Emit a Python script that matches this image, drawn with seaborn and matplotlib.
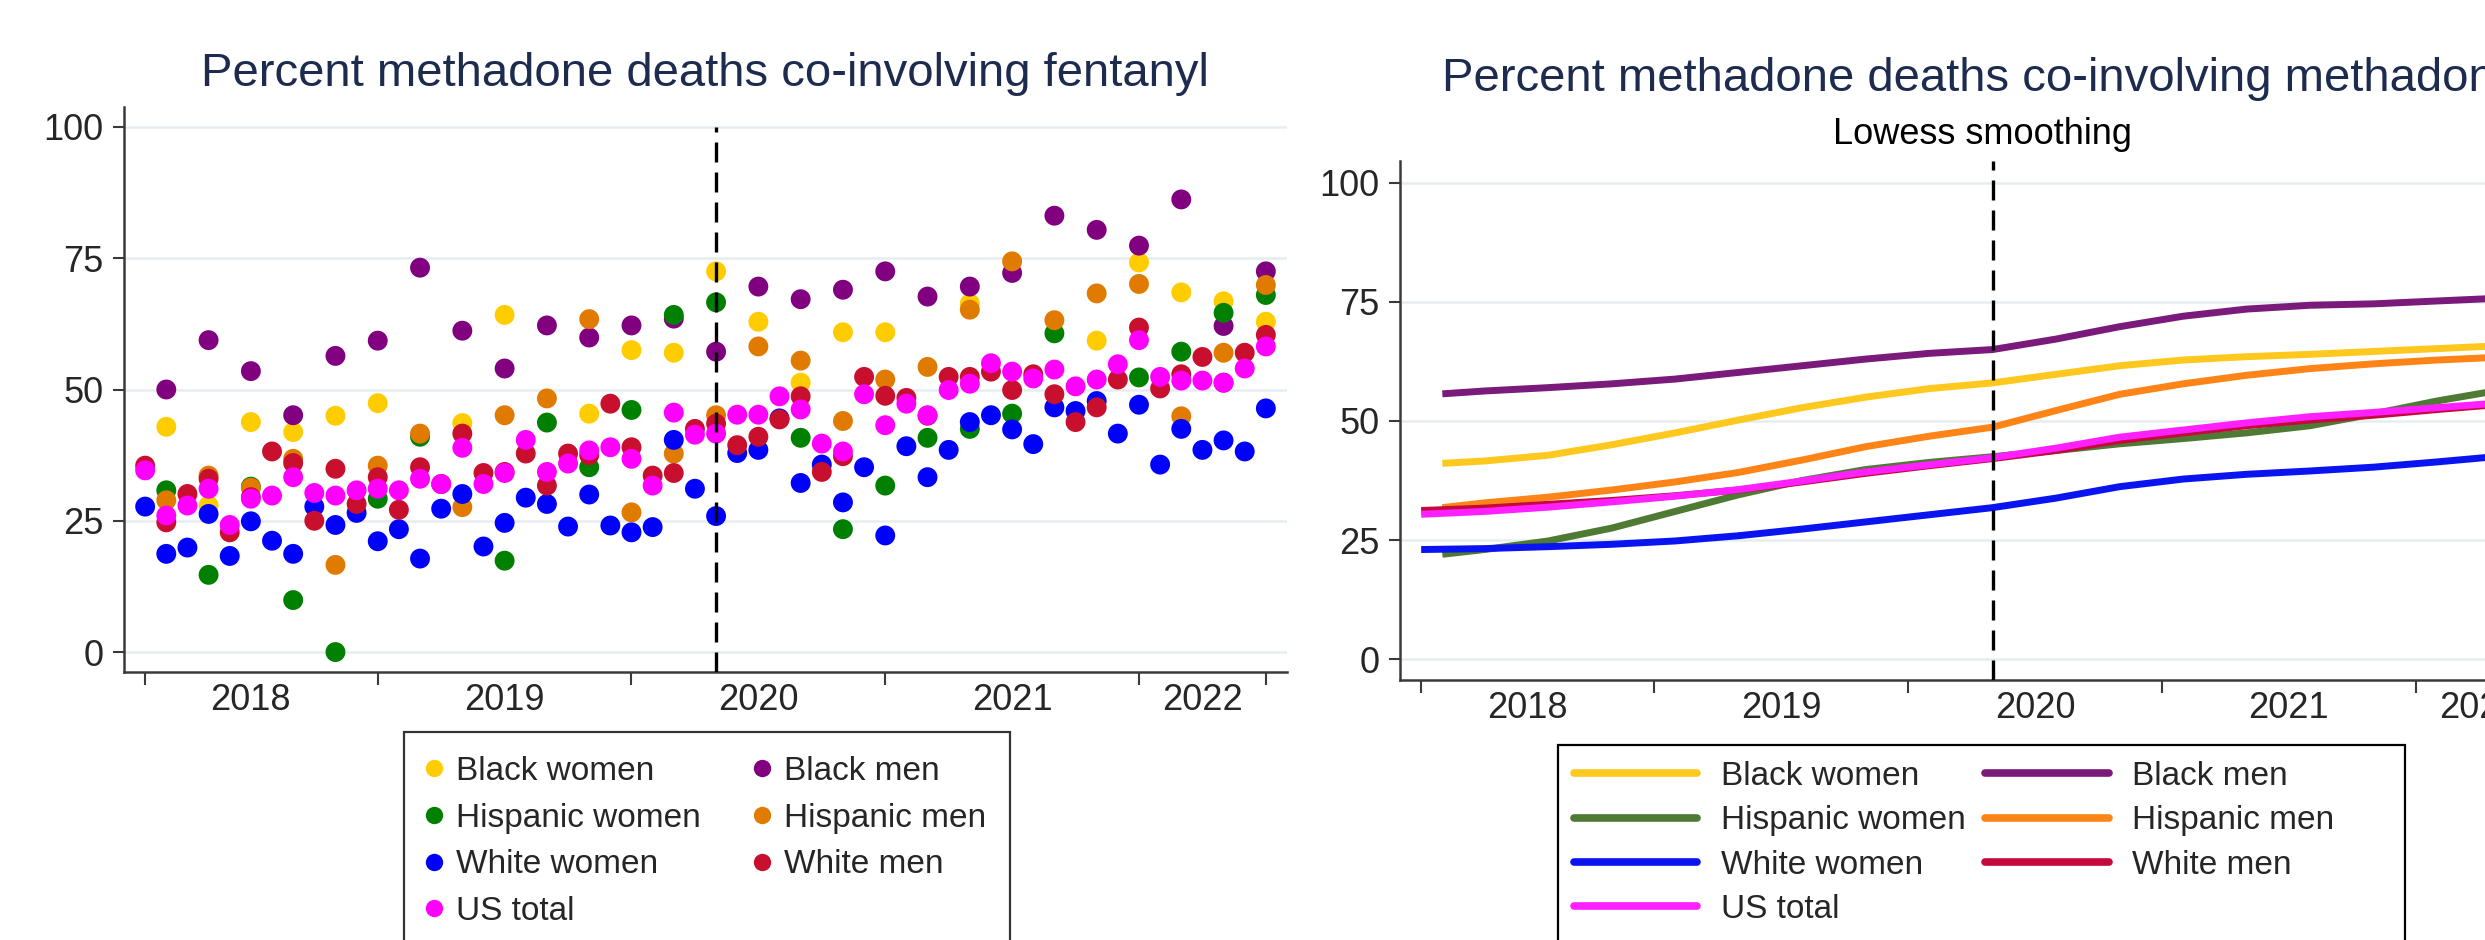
import numpy as np
import pandas as pd
import matplotlib
matplotlib.use("Agg")
import matplotlib.pyplot as plt
from matplotlib.lines import Line2D
from matplotlib.patches import Rectangle
import seaborn as sns

sns.set_theme(style="white")
plt.rcParams['font.family'] = ['Liberation Sans', 'DejaVu Sans']

nan = np.nan

# Month index: 0 = Jan 2018 ... 53 = Jun 2022
months = list(range(54))

# Monthly percent of methadone deaths co-involving fentanyl
black_women = [nan, 42.9, nan, 27.9, nan, 43.8, nan, 41.9, nan, 45.0, nan, 47.4,
               nan, nan, nan, 43.6, nan, 64.2, nan, nan, nan, 45.4, nan, 57.5,
               nan, 57.0, nan, 72.5, nan, 62.9, nan, 51.3, nan, 60.9, nan, 60.9,
               nan, nan, nan, 66.4, nan, nan, nan, nan, nan, 59.3, nan, 74.2,
               nan, 68.5, nan, 66.8, nan, 62.9]
black_men = [nan, 50.0, nan, 59.4, nan, 53.5, nan, 45.1, nan, 56.4, nan, 59.3,
             nan, 73.2, nan, 61.2, nan, 54.0, nan, 62.2, nan, 59.9, nan, 62.2,
             nan, 63.5, nan, 57.2, nan, 69.6, nan, 67.2, nan, 69.0, nan, 72.5,
             nan, 67.7, nan, 69.6, nan, 72.2, nan, 83.1, nan, 80.4, nan, 77.4,
             nan, 86.2, nan, 62.1, nan, 72.5]
hispanic_women = [nan, 30.8, nan, 14.7, nan, 31.5, nan, 9.9, nan, 0.0, nan, 29.2,
                  nan, 41.0, nan, nan, nan, 17.4, nan, 43.7, nan, 35.2, nan, 46.1,
                  nan, 64.2, nan, 66.6, nan, nan, nan, 40.8, nan, 23.4, nan, 31.7,
                  nan, 40.8, nan, 42.5, nan, 45.4, nan, 60.7, nan, nan, nan, 52.3,
                  nan, 57.2, nan, 64.6, nan, 68.0]
hispanic_men = [nan, 28.9, nan, 33.6, nan, 31.3, nan, 36.8, nan, 16.6, nan, 35.5,
                nan, 41.6, nan, 27.6, nan, 45.1, nan, 48.3, nan, 63.4, nan, 26.6,
                nan, 37.8, nan, 45.1, nan, 58.2, nan, 55.5, nan, 44.0, nan, 51.9,
                nan, 54.3, nan, 65.2, nan, 74.4, nan, 63.2, nan, 68.3, nan, 70.1,
                nan, 44.9, nan, 57.0, nan, 69.9]
white_women = [27.7, 18.7, 19.9, 26.3, 18.3, 24.9, 21.2, 18.7, 27.7, 24.2, 26.5, 21.1,
               23.4, 17.8, 27.3, 30.1, 20.1, 24.6, 29.4, 28.2, 23.9, 30.0, 24.1, 22.8,
               23.8, 40.4, 31.1, 25.9, 37.9, 38.5, 44.5, 32.2, 35.7, 28.5, 35.2, 22.2,
               39.2, 33.3, 38.5, 43.8, 45.1, 42.4, 39.6, 46.6, 45.9, 47.8, 41.6, 47.1,
               35.7, 42.5, 38.5, 40.3, 38.2, 46.4]
white_men = [35.5, 24.7, 30.1, 33.0, 22.8, 29.5, 38.2, 36.0, 25.0, 34.9, 28.2, 33.3,
             27.1, 35.2, 32.0, 41.6, 34.1, 34.3, 37.8, 31.7, 37.8, 37.5, 47.3, 39.0,
             33.6, 34.1, 42.5, 43.5, 39.4, 41.0, 44.3, 48.7, 34.3, 37.3, 52.4, 48.8,
             48.4, 45.0, 52.4, 52.4, 53.4, 49.9, 52.9, 49.1, 43.8, 46.6, 51.9, 61.8,
             50.2, 52.9, 56.2, 51.3, 57.0, 60.4]
us_total = [34.6, 26.0, 27.9, 31.1, 24.2, 29.2, 29.8, 33.3, 30.3, 29.8, 30.8, 31.1,
            30.8, 33.0, 32.0, 38.9, 32.0, 34.1, 40.4, 34.3, 35.9, 38.4, 39.0, 36.8,
            31.7, 45.6, 41.4, 41.6, 45.2, 45.2, 48.7, 46.2, 39.7, 38.2, 49.1, 43.2,
            47.3, 45.1, 49.9, 51.1, 55.0, 53.4, 52.1, 53.8, 50.6, 51.9, 54.8, 59.4,
            52.4, 51.7, 51.7, 51.3, 54.0, 58.2]

# Lowess-smoothed curves, sampled quarterly
smooth_months_w = [0, 3, 6, 9, 12, 15, 18, 21, 24, 27, 30, 33, 36, 39, 42, 45, 48, 51, 53]
smooth_months_m = [1, 3, 6, 9, 12, 15, 18, 21, 24, 27, 30, 33, 36, 39, 42, 45, 48, 51, 53]
fit_black_women = [41.1, 41.6, 42.8, 45.0, 47.5, 50.2, 52.8, 55.0, 56.8, 58.0, 59.8, 61.6,
                   62.8, 63.5, 64.0, 64.6, 65.2, 65.8, 66.2]
fit_black_men = [55.7, 56.3, 57.0, 57.8, 58.8, 60.2, 61.6, 63.0, 64.2, 65.0, 67.2, 69.8,
                 72.0, 73.5, 74.3, 74.6, 75.2, 75.8, 76.2]
fit_hispanic_women = [22.0, 23.0, 24.8, 27.5, 31.0, 34.5, 37.5, 39.8, 41.3, 42.5, 43.8, 45.2,
                      46.3, 47.5, 49.0, 51.5, 54.2, 56.5, 58.0]
fit_hispanic_men = [31.8, 32.8, 34.0, 35.5, 37.2, 39.2, 41.8, 44.6, 46.8, 48.7, 52.2, 55.6,
                    57.8, 59.6, 61.0, 62.0, 62.8, 63.4, 63.8]
fit_white_women = [23.0, 23.2, 23.6, 24.1, 24.8, 25.9, 27.3, 28.8, 30.3, 31.8, 33.8, 36.2,
                   37.8, 38.8, 39.5, 40.3, 41.4, 42.6, 43.4]
fit_white_men = [31.2, 31.7, 32.5, 33.3, 34.3, 35.5, 37.2, 39.0, 40.6, 42.1, 43.8, 45.9,
                 47.5, 49.0, 50.2, 51.2, 52.4, 53.5, 54.2]
fit_us_total = [30.4, 31.0, 31.9, 33.0, 34.2, 35.6, 37.4, 39.3, 40.8, 42.3, 44.3, 46.6,
                48.1, 49.6, 50.9, 51.8, 52.8, 53.8, 54.6]

groups = ["Black women", "Black men", "Hispanic women", "Hispanic men",
          "White women", "White men", "US total"]
legend_order = ["Black women", "Hispanic women", "White women", "US total",
                "Black men", "Hispanic men", "White men"]

year_ticks = [0, 11, 23, 35, 47, 53]
year_label_pos = [5, 17, 29, 41, 50]
year_labels = ["2018", "2019", "2020", "2021", "2022"]
y_ticks = [0, 25, 50, 75, 100]

dot_colors = {"Black women": "#FFCC00", "Black men": "#800080",
              "Hispanic women": "#008000", "Hispanic men": "#E07B00",
              "White women": "#0000FF", "White men": "#C8102E",
              "US total": "#FF00FF"}
line_colors = {"Black women": "#FFC81E", "Black men": "#7A1A7A",
               "Hispanic women": "#4E7A34", "Hispanic men": "#FF8418",
               "White women": "#0A14F0", "White men": "#C40A3C",
               "US total": "#FF20FF"}

raw = {"Black women": black_women, "Black men": black_men,
       "Hispanic women": hispanic_women, "Hispanic men": hispanic_men,
       "White women": white_women, "White men": white_men, "US total": us_total}
fits = {"Black women": (smooth_months_m, fit_black_women),
        "Black men": (smooth_months_m, fit_black_men),
        "Hispanic women": (smooth_months_m, fit_hispanic_women),
        "Hispanic men": (smooth_months_m, fit_hispanic_men),
        "White women": (smooth_months_w, fit_white_women),
        "White men": (smooth_months_w, fit_white_men),
        "US total": (smooth_months_w, fit_us_total)}

pts = pd.concat([pd.DataFrame({"month": months, "pct": raw[g], "group": g}) for g in groups],
                ignore_index=True).dropna()
curves = pd.concat([pd.DataFrame({"month": fits[g][0], "fit": fits[g][1], "group": g}) for g in groups],
                   ignore_index=True)

W, H = 2485, 940
fig = plt.figure(figsize=(W / 100, H / 100), dpi=100)
ax1 = fig.add_axes([124 / W, 1 - 672 / H, 1163 / W, 565 / H])
ax2 = fig.add_axes([1400 / W, 1 - 680 / H, 1164 / W, 519 / H])

TITLE_C = "#1D2B4F"
GRID_C = "#E6EDF1"
SPINE_C = "#3A3A3A"


def style_axes(ax, ylim):
    ax.set_xlim(-1, 54)
    ax.set_ylim(*ylim)
    for y in y_ticks:
        ax.axhline(y, color=GRID_C, lw=1.8, zorder=0)
    ax.set_yticks(y_ticks)
    ax.set_yticklabels([str(v) for v in y_ticks])
    ax.set_xticks(year_ticks)
    ax.set_xticklabels([""] * len(year_ticks))
    ax.set_xticks(year_label_pos, minor=True)
    ax.set_xticklabels(year_labels, minor=True)
    ax.tick_params(axis="y", which="major", direction="out", length=8, width=1.5,
                   color=SPINE_C, labelsize=26, pad=7, left=True)
    ax.tick_params(axis="x", which="major", direction="out", length=9, width=1.5,
                   color=SPINE_C, bottom=True)
    ax.tick_params(axis="x", which="minor", length=0, labelsize=26, pad=8, bottom=True)
    for s in ["top", "right"]:
        ax.spines[s].set_visible(False)
    for s in ["left", "bottom"]:
        ax.spines[s].set_color(SPINE_C)
        ax.spines[s].set_linewidth(1.8)
    ax.grid(False)


# Left panel: monthly points
style_axes(ax1, (-3.8, 103.8))
sns.scatterplot(data=pts, x="month", y="pct", hue="group", palette=dot_colors,
                s=205, linewidth=0, alpha=1, legend=False, ax=ax1, zorder=3)
ax1.plot([27, 27], [-3.8, 100], color="black", lw=2.4, dashes=(6, 3), zorder=4)
ax1.set_xlabel("")
ax1.set_ylabel("")

# Right panel: smoothed trends
style_axes(ax2, (-4.4, 104.6))
sns.lineplot(data=curves, x="month", y="fit", hue="group", hue_order=groups,
             palette=line_colors, linewidth=5, legend=False, ax=ax2,
             estimator=None, sort=True, zorder=3)
for ln in ax2.get_lines():
    ln.set_solid_joinstyle("round")
    ln.set_solid_capstyle("butt")
ax2.axvline(27, color="black", lw=2.4, dashes=(6, 3), zorder=4)
ax2.set_xlabel("")
ax2.set_ylabel("")

# Titles
fig.text(705 / W, 1 - 74 / H, "Percent methadone deaths co-involving fentanyl",
         ha="center", va="center", fontsize=34, color=TITLE_C)
fig.text(1982 / W, 1 - 79 / H, "Percent methadone deaths co-involving methadone",
         ha="center", va="center", fontsize=34, color=TITLE_C)
fig.text(1982 / W, 1 - 134 / H, "Lowess smoothing",
         ha="center", va="center", fontsize=26, color="black")

# Legend for the points
dot_handles = [Line2D([], [], linestyle="none", marker="o", markersize=12.5,
                      markerfacecolor=dot_colors[g], markeredgewidth=0) for g in legend_order]
leg1 = fig.legend(dot_handles, legend_order, ncol=2, loc="upper center",
                  bbox_to_anchor=(707 / W, 1 - 732 / H), borderaxespad=0,
                  frameon=True, fancybox=False, fontsize=24, handlelength=0.4,
                  handletextpad=0.45, columnspacing=1.65, labelspacing=0.47,
                  borderpad=0.72, edgecolor="black")
leg1.get_frame().set_linewidth(1.6)

# Legend for the smoothed lines, with its own box
line_handles = [Line2D([], [], color=line_colors[g], lw=5.5) for g in legend_order]
fig.legend(line_handles, legend_order, ncol=2, loc="upper left",
           bbox_to_anchor=(1574 / W, 1 - 761 / H), borderaxespad=0, frameon=False,
           fontsize=24, handlelength=3.7, handletextpad=0.7, columnspacing=0.6,
           labelspacing=0.4, borderpad=0)
fig.add_artist(Rectangle((1558 / W, 1 - 960 / H), (2405 - 1558) / W, (960 - 745) / H,
                         transform=fig.transFigure, fill=False, edgecolor="black",
                         linewidth=1.6, clip_on=False))

fig.savefig("out.png", dpi=100, facecolor="white")
